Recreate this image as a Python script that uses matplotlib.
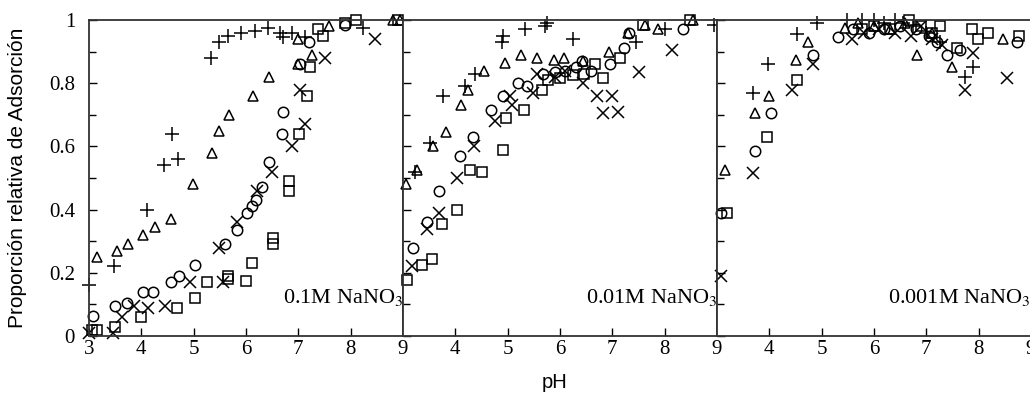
import matplotlib
matplotlib.use("Agg")
import matplotlib.pyplot as plt
from matplotlib.ticker import MultipleLocator

# ---------------- data ----------------
panel_labels = ["0.1M NaNO$_3$", "0.01M NaNO$_3$", "0.001M NaNO$_3$"]
y_ticks = [0, 0.2, 0.4, 0.6, 0.8, 1.0]
y_tick_labels = ["0", "0.2", "0.4", "0.6", "0.8", "1"]
x_ticks_first = [3, 4, 5, 6, 7, 8, 9]
x_ticks_other = [4, 5, 6, 7, 8, 9]

# Panel 1 : 0.1 M NaNO3
p1_plus_x = [3.0, 3.48, 4.1, 4.43, 4.59, 4.7, 5.33, 5.49, 5.66, 5.9, 6.17, 6.42, 6.65, 6.71, 6.88, 7.13, 8.24]
p1_plus_y = [0.16, 0.22, 0.40, 0.54, 0.64, 0.56, 0.88, 0.93, 0.95, 0.96, 0.965, 0.975, 0.96, 0.946, 0.96, 0.946, 0.975]
p1_tri_x = [3.15, 3.54, 3.75, 4.03, 4.26, 4.57, 4.99, 5.35, 5.49, 5.68, 6.14, 6.44, 7.0, 7.26, 7.0, 7.59, 8.81, 8.95]
p1_tri_y = [0.25, 0.27, 0.29, 0.32, 0.345, 0.37, 0.48, 0.58, 0.65, 0.70, 0.76, 0.82, 0.86, 0.89, 0.94, 0.98, 1.0, 1.0]
p1_circ_x = [3.08, 3.5, 3.72, 4.03, 4.22, 4.57, 4.72, 5.03, 5.6, 5.83, 6.02, 6.12, 6.19, 6.31, 6.44, 6.69, 6.71, 7.03, 7.2, 7.89]
p1_circ_y = [0.063, 0.095, 0.105, 0.14, 0.14, 0.17, 0.19, 0.225, 0.29, 0.335, 0.39, 0.41, 0.43, 0.47, 0.55, 0.64, 0.71, 0.86, 0.93, 0.985]
p1_x_x = [3.0, 3.45, 3.63, 3.86, 4.13, 4.45, 4.93, 5.49, 5.56, 5.83, 6.21, 6.5, 6.88, 7.13, 7.03, 7.51, 8.47]
p1_x_y = [0.01, 0.01, 0.06, 0.095, 0.09, 0.095, 0.17, 0.28, 0.17, 0.36, 0.46, 0.52, 0.60, 0.67, 0.78, 0.88, 0.94]
p1_sq_x = [3.05, 3.15, 3.5, 4.0, 4.68, 5.03, 5.25, 5.66, 5.66, 6.0, 6.12, 6.52, 6.52, 6.82, 6.82, 7.01, 7.17, 7.23, 7.38, 7.47, 7.89, 8.1, 8.9]
p1_sq_y = [0.02, 0.02, 0.03, 0.06, 0.09, 0.12, 0.17, 0.19, 0.18, 0.175, 0.23, 0.31, 0.29, 0.49, 0.46, 0.64, 0.76, 0.85, 0.97, 0.95, 0.99, 1.0, 1.0]

# Panel 2 : 0.01 M NaNO3
p2_plus_x = [3.23, 3.52, 3.76, 4.19, 4.38, 4.89, 4.91, 5.33, 5.71, 5.75, 6.25, 7.45, 8.0, 8.95]
p2_plus_y = [0.52, 0.61, 0.76, 0.79, 0.83, 0.93, 0.95, 0.97, 0.98, 0.99, 0.94, 0.93, 0.97, 0.985]
p2_tri_x = [3.06, 3.27, 3.57, 3.82, 4.1, 4.24, 4.55, 4.95, 5.26, 5.56, 5.89, 6.08, 6.44, 6.94, 7.3, 7.63, 7.88, 8.55]
p2_tri_y = [0.48, 0.525, 0.60, 0.645, 0.73, 0.78, 0.84, 0.865, 0.89, 0.88, 0.875, 0.88, 0.87, 0.90, 0.96, 0.985, 0.97, 1.0]
p2_circ_x = [3.19, 3.46, 3.69, 4.09, 4.34, 4.68, 4.91, 5.2, 5.37, 5.68, 5.9, 6.1, 6.3, 6.42, 6.6, 6.96, 7.23, 7.32, 8.35]
p2_circ_y = [0.28, 0.36, 0.46, 0.57, 0.63, 0.715, 0.76, 0.80, 0.79, 0.83, 0.835, 0.84, 0.85, 0.87, 0.84, 0.86, 0.91, 0.96, 0.97]
p2_x_x = [3.17, 3.46, 3.69, 4.03, 4.36, 4.76, 5.05, 5.08, 5.49, 5.56, 5.9, 6.1, 6.44, 6.71, 7.0, 6.82, 7.11, 7.51, 8.14]
p2_x_y = [0.22, 0.34, 0.39, 0.50, 0.60, 0.68, 0.76, 0.73, 0.77, 0.83, 0.82, 0.84, 0.80, 0.76, 0.76, 0.705, 0.71, 0.835, 0.905]
p2_sq_x = [3.08, 3.36, 3.55, 3.75, 4.03, 4.28, 4.51, 4.91, 4.97, 5.31, 5.66, 5.77, 6.0, 6.25, 6.45, 6.67, 6.82, 7.15, 7.59, 8.49]
p2_sq_y = [0.177, 0.225, 0.245, 0.355, 0.40, 0.525, 0.52, 0.59, 0.69, 0.715, 0.78, 0.81, 0.815, 0.825, 0.83, 0.86, 0.815, 0.88, 0.985, 1.0]

# Panel 3 : 0.001 M NaNO3
p3_plus_x = [3.69, 3.98, 4.53, 4.91, 5.49, 5.78, 6.0, 6.2, 6.4, 6.55, 6.75, 7.0, 7.26, 7.74, 7.9]
p3_plus_y = [0.77, 0.86, 0.955, 0.99, 1.0, 1.0, 1.0, 0.99, 1.0, 0.99, 0.98, 0.96, 0.93, 0.82, 0.85]
p3_tri_x = [3.15, 3.73, 4.0, 4.5, 4.74, 5.45, 5.7, 6.0, 6.3, 6.6, 6.82, 7.1, 7.49, 8.47]
p3_tri_y = [0.525, 0.705, 0.76, 0.875, 0.93, 0.975, 0.99, 0.98, 0.97, 0.99, 0.89, 0.96, 0.85, 0.94]
p3_circ_x = [3.08, 3.73, 4.03, 4.84, 5.31, 5.6, 5.9, 6.2, 6.5, 6.8, 7.05, 7.2, 7.4, 7.65, 8.74]
p3_circ_y = [0.39, 0.585, 0.705, 0.89, 0.945, 0.97, 0.96, 0.97, 0.98, 0.97, 0.95, 0.93, 0.89, 0.905, 0.93]
p3_x_x = [3.08, 3.69, 4.43, 4.84, 5.58, 5.8, 6.1, 6.4, 6.7, 6.9, 7.1, 7.3, 7.74, 7.9, 8.55]
p3_x_y = [0.19, 0.515, 0.78, 0.86, 0.94, 0.96, 0.97, 0.96, 0.95, 0.98, 0.94, 0.92, 0.78, 0.895, 0.815]
p3_sq_x = [3.19, 3.96, 4.53, 5.77, 6.0, 6.3, 6.67, 6.9, 7.1, 7.26, 7.59, 7.88, 7.99, 8.18, 8.77]
p3_sq_y = [0.39, 0.63, 0.81, 0.97, 0.98, 0.97, 1.0, 0.98, 0.96, 0.98, 0.91, 0.97, 0.94, 0.96, 0.95]

panels = [
    [(p1_plus_x, p1_plus_y), (p1_tri_x, p1_tri_y), (p1_circ_x, p1_circ_y), (p1_x_x, p1_x_y), (p1_sq_x, p1_sq_y)],
    [(p2_plus_x, p2_plus_y), (p2_tri_x, p2_tri_y), (p2_circ_x, p2_circ_y), (p2_x_x, p2_x_y), (p2_sq_x, p2_sq_y)],
    [(p3_plus_x, p3_plus_y), (p3_tri_x, p3_tri_y), (p3_circ_x, p3_circ_y), (p3_x_x, p3_x_y), (p3_sq_x, p3_sq_y)],
]
markers = ["+", "^", "o", "x", "s"]
msizes = [10, 7.5, 7.5, 9, 7.5]

# ---------------- figure ----------------
plt.rcParams["mathtext.fontset"] = "stix"
serif = "Liberation Serif"
sans = "Liberation Sans"

W, H = 1030, 394
fig = plt.figure(figsize=(W / 100, H / 100), dpi=100)

left_px = [89, 403, 717]
pw = 314
top_px, bot_px = 20, 336

for i in range(3):
    ax = fig.add_axes([left_px[i] / W, (H - bot_px) / H, pw / W, (bot_px - top_px) / H])
    for (xs, ys), m, ms in zip(panels[i], markers, msizes):
        ax.plot(xs, ys, linestyle="none", marker=m, markersize=ms,
                markerfacecolor="none", markeredgecolor="black", markeredgewidth=1.1,
                clip_on=False)
    ax.set_xlim(3, 9)
    ax.set_ylim(0, 1)
    ax.set_yticks(y_ticks)
    ax.yaxis.set_minor_locator(MultipleLocator(0.1))
    ax.tick_params(which="both", direction="in", top=False, right=False,
                   length=6, width=1.0, labelsize=15)
    ax.tick_params(axis="x", pad=3)
    ax.tick_params(axis="y", pad=10)
    ax.tick_params(which="minor", length=5)
    for s in ax.spines.values():
        s.set_linewidth(1.3)
        s.set_color("#333333")
    if i == 0:
        ax.set_xticks(x_ticks_first)
        ax.set_yticklabels(y_tick_labels)
    else:
        ax.set_xticks(x_ticks_other)
        ax.tick_params(axis="y", labelleft=False)
    ax.set_xticklabels([str(int(t)) for t in ax.get_xticks()])
    for lab in ax.get_xticklabels() + ax.get_yticklabels():
        lab.set_family(serif)
    ax.text(9.0, 0.105, panel_labels[i], ha="right", va="baseline",
            fontsize=16, family=serif)

fig.text(0.5385, 0.005, "pH", ha="center", va="bottom", fontsize=14.5, family=sans)
fig.text(0.008, (H - (top_px + bot_px) / 2) / H, "Proporción relativa de Adsorción",
         rotation=90, ha="left", va="center", fontsize=15, family=sans)

fig.savefig("out.png", dpi=100)
